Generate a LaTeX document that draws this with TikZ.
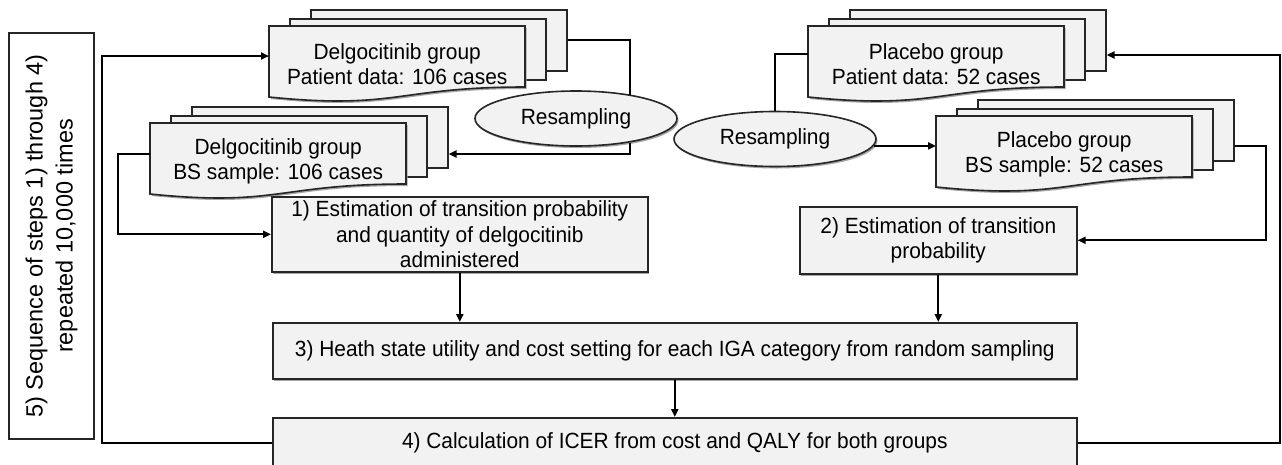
\documentclass[tikz,border=0pt]{standalone}
\usepackage{fontspec}
\setmainfont{Liberation Sans}
\newfontfamily\gfont{Liberation Sans}[FakeStretch=0.95]
\usetikzlibrary{arrows.meta,shapes.geometric,shadows,calc}
\definecolor{boxfill}{HTML}{F2F2F2}
\definecolor{edgec}{HTML}{262626}
\definecolor{shadowc}{HTML}{A6A6A6}
\tikzset{
  txt/.style={font=\gfont\fontsize{22}{25.5}\selectfont, text=black},
  procbox/.style={txt, draw=edgec, line width=1.6pt, fill=boxfill, inner sep=0pt, align=center, anchor=north west,
    drop shadow={shadow xshift=1.5pt, shadow yshift=-2pt, fill=shadowc, opacity=1}},
  backpage/.style={draw=edgec, line width=1.6pt, fill=boxfill, inner sep=0pt, anchor=north west,
    minimum width=256pt, minimum height=61pt},
  docfill/.style={draw=edgec, line width=1.6pt, fill=boxfill},
  doctext/.style={txt, inner sep=0pt, align=center, anchor=north west, minimum width=256pt, minimum height=76pt},
  resamp/.style={txt, ellipse, draw=edgec, line width=1.6pt, fill=boxfill, inner sep=0pt,
    minimum width=202pt, minimum height=55pt,
    drop shadow={shadow xshift=1.5pt, shadow yshift=-2pt, fill=shadowc, opacity=1}},
  conn/.style={line width=2pt, draw=black},
  arr/.style={conn, -{Triangle[length=8pt,width=7pt]}},
}
\newcommand\mdoc[4]{%
  \node[backpage] (#1-3) at (#2+41,#3-17) {};
  \node[backpage] (#1-2) at (#2+20,#3-8) {};
  \fill[shadowc, xshift=1.5pt, yshift=-2pt] (#2,#3) -- ++(256,0) -- ++(0,61)
     .. controls (#2+128,#3+61) and (#2+128,#3+84) .. (#2,#3+71) -- cycle;
  \filldraw[docfill] (#2,#3) -- ++(256,0) -- ++(0,61)
     .. controls (#2+128,#3+61) and (#2+128,#3+84) .. (#2,#3+71) -- cycle;
  \node[doctext] (#1F) at (#2,#3) {#4};
}
\begin{document}
\begin{tikzpicture}[x=1pt,y=-1pt]
\clip (0,0) rectangle (1282,464);
\fill[white] (0,0) rectangle (1282,464);

% repeat label
\node[draw=edgec, line width=1.4pt, rotate=90, minimum width=406pt, minimum height=85pt, inner sep=0pt,
  align=center, font=\fontsize{23.5}{30}\selectfont] (lbl) at (51.5,236)
  {5) Sequence of steps 1) through 4)\\repeated 10,000 times};

% documents
\mdoc{dpat}{269}{26}{Delgocitinib group\\Patient data: 106 cases}
\mdoc{dbs}{150}{123}{Delgocitinib group\\BS sample: 106 cases}
\mdoc{ppat}{808}{26}{Placebo group\\Patient data: 52 cases}
\mdoc{pbs}{936}{116}{Placebo group\\BS sample: 52 cases}

% resampling ellipses
\node[resamp] (rsL) at (576,118.5) {Resampling};
\node[resamp] (rsR) at (775,139) {Resampling};

% process boxes
\node[procbox, minimum width=376pt, minimum height=75pt] (box1) at (271,196)
  {1) Estimation of transition probability\\and quantity of delgocitinib\\administered};
\node[procbox, minimum width=277pt, minimum height=67pt] (box2) at (799,206)
  {2) Estimation of transition\\probability};
\node[procbox, minimum width=804pt, minimum height=56pt] (box3) at (272,322)
  {3) Heath state utility and cost setting for each IGA category from random sampling};
\node[procbox, minimum width=804pt, minimum height=50pt] (box4) at (272,417)
  {4) Calculation of ICER from cost and QALY for both groups};

% junction coordinates
\coordinate (fbL) at (102,56);
\coordinate (fbR) at (1280,55);
\coordinate (jL2) at (628,154);
\coordinate (jL3) at (118,154);
\coordinate (jR1) at (776,54);
\coordinate (jR2) at (1266,146);

% connectors
\draw[arr] (box4.west) -| (fbL) -- (dpatF.west |- fbL);
\draw[arr] (box4.east) -| (fbR) -- (ppat-3.east |- fbR);
\draw[conn] (dpat-3.east) -| (rsL.24);
\draw[arr] (rsL.-24) |- (dbs-3.east |- jL2);
\draw[arr] (dbsF.west |- jL3) -- (jL3) |- (box1.west);
\draw[conn] (ppatF.west |- jR1) -| (rsR.north);
\draw[arr] (rsR.-4) -- (pbsF.west |- rsR.-4);
\draw[arr] (pbs-3.east |- jR2) -- (jR2) |- (box2.east);
\draw[arr] (box1.south) -- (box1.south |- box3.north);
\draw[arr] (box2.south) -- (box2.south |- box3.north);
\draw[arr] (box3.south) -- (box4.north);
\end{tikzpicture}
\end{document}
